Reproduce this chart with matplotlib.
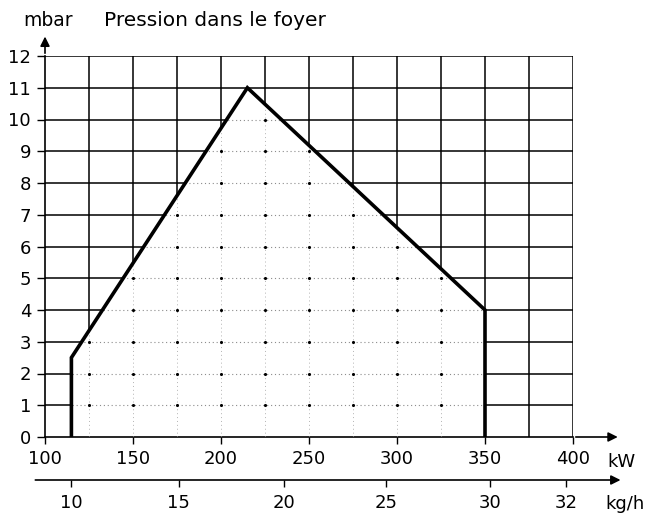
import numpy as np
import matplotlib
matplotlib.use("Agg")
import matplotlib.pyplot as plt
from matplotlib.patches import Polygon

plt.rcParams['font.family'] = ['DejaVu Sans']

# enveloppe de fonctionnement (kW, mbar)
env_kw = [115, 115, 215, 350, 350]
env_mbar = [0, 2.5, 11, 4, 0]

kw_ticks = [100, 150, 200, 250, 300, 350, 400]
mbar_ticks = list(range(0, 13))
kgh_labels = ['10', '15', '20', '25', '30', '32']
kgh_at_kw = [115, 176, 236, 294, 353, 396]

W, H = 656, 515
fig = plt.figure(figsize=(W / 100, H / 100), dpi=100)
L, R, B, T = 45, 573, 437, 56
ax = fig.add_axes([L / W, 1 - B / H, (R - L) / W, (B - T) / H])
ax.set_xlim(100, 400)
ax.set_ylim(0, 12)

# grille pleine
for x in range(125, 401, 25):
    ax.axvline(x, color='black', lw=1.1, zorder=1)
for y in range(1, 13):
    ax.axhline(y, color='black', lw=1.1, zorder=1)

# intérieur de l'enveloppe : blanc, grille en pointillés
pts = np.column_stack([env_kw, env_mbar])
poly = Polygon(pts, closed=True, facecolor='white', edgecolor='none', zorder=2)
ax.add_patch(poly)
for x in range(125, 400, 25):
    l, = ax.plot([x, x], [0, 12], color='0.7', lw=0.7, ls=(0, (1, 3)), zorder=3)
    l.set_clip_path(poly)
for y in range(1, 12):
    l, = ax.plot([100, 400], [y, y], color='0.55', lw=0.8, ls=(0, (1, 2.5)), zorder=3)
    l.set_clip_path(poly)
gx, gy = np.meshgrid(np.arange(125, 351, 25), np.arange(1, 11))
sc = ax.scatter(gx.ravel(), gy.ravel(), s=5, color='black', zorder=4, lw=0)
sc.set_clip_path(poly)

ax.plot(env_kw, env_mbar, color='black', lw=2.6, zorder=5, solid_joinstyle='miter')

# axes
for s in ['top', 'right']:
    ax.spines[s].set_visible(False)
ax.spines['left'].set_linewidth(1.2)
ax.spines['bottom'].set_linewidth(1.2)
ax.set_xticks(kw_ticks)
ax.set_yticks(mbar_ticks)
ax.tick_params(axis='x', length=5, width=1.0, pad=4, labelsize=13)
ax.tick_params(axis='y', length=6, width=1.0, pad=4, labelsize=13)

ax.annotate('', xy=(427, 0), xytext=(400, 0), annotation_clip=False,
            arrowprops=dict(arrowstyle='-|>', color='black', lw=1.2, mutation_scale=14))
ax.annotate('', xy=(100, 12.7), xytext=(100, 12), annotation_clip=False,
            arrowprops=dict(arrowstyle='-|>', color='black', lw=1.2, mutation_scale=14))

# second axe : kg/h
ax2 = fig.add_axes([L / W, 1 - 480 / H, (R - L) / W, 0.0001])
ax2.set_xlim(100, 400)
for s in ax2.spines.values():
    s.set_visible(False)
ax2.set_yticks([])
ax2.set_xticks(kgh_at_kw, labels=kgh_labels)
ax2.tick_params(axis='x', length=5, width=1.0, pad=5, labelsize=13)
ax2.annotate('', xy=(427, 0), xytext=(94.5, 0), annotation_clip=False,
             arrowprops=dict(arrowstyle='-|>', color='black', lw=1.2, mutation_scale=14,
                             shrinkA=0, shrinkB=0))

fig.text(621 / W, 1 - 462 / H, 'kW', ha='center', va='center', fontsize=13)
fig.text(625 / W, 1 - 504 / H, 'kg/h', ha='center', va='center', fontsize=13)
fig.text(48 / W, 1 - 20 / H, 'mbar', ha='center', va='center', fontsize=13.5)
fig.text(104 / W, 1 - 20 / H, 'Pression dans le foyer', ha='left', va='center', fontsize=14.5)

fig.savefig('out.png', dpi=100)
